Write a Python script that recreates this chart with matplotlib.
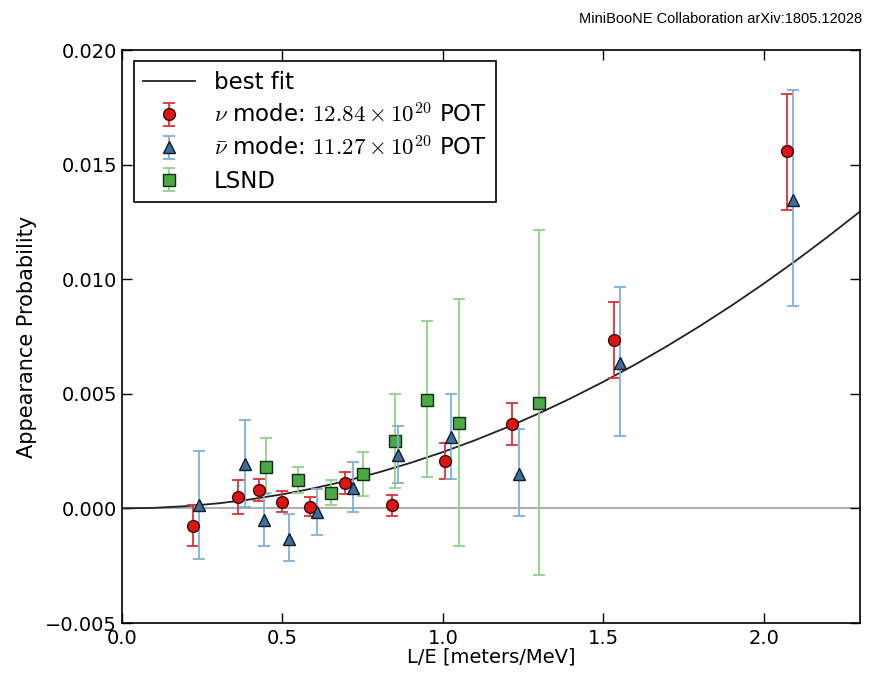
import matplotlib
matplotlib.use("Agg")
import matplotlib.pyplot as plt
import numpy as np

# Données (L/E en m/MeV, probabilité d'apparition)
nu_x = [0.222, 0.362, 0.426, 0.498, 0.585, 0.696, 0.842, 1.006, 1.216, 1.533, 2.073]
nu_y = [-0.00077, 0.00049, 0.00080, 0.00030, 0.00006, 0.00110, 0.00013, 0.00208, 0.00367, 0.00733, 0.01560]
nu_hi = [0.00013, 0.00123, 0.00130, 0.00077, 0.00048, 0.00158, 0.00060, 0.00286, 0.00459, 0.00900, 0.01810]
nu_lo = [-0.00166, -0.00025, 0.00032, -0.00016, -0.00033, 0.00062, -0.00033, 0.00130, 0.00277, 0.00568, 0.01303]

nubar_x = [0.241, 0.382, 0.444, 0.520, 0.608, 0.719, 0.860, 1.026, 1.236, 1.553, 2.093]
nubar_y = [0.00013, 0.00192, -0.00052, -0.00132, -0.00016, 0.00090, 0.00231, 0.00312, 0.00152, 0.00635, 0.01346]
nubar_hi = [0.00250, 0.00385, 0.00061, -0.00026, 0.00083, 0.00203, 0.00359, 0.00497, 0.00347, 0.00964, 0.01826]
nubar_lo = [-0.00219, 0.00007, -0.00164, -0.00230, -0.00115, -0.00016, 0.00109, 0.00130, -0.00033, 0.00314, 0.00881]

lsnd_x = [0.45, 0.55, 0.65, 0.75, 0.85, 0.95, 1.05, 1.30]
lsnd_y = [0.00182, 0.00123, 0.00068, 0.00148, 0.00293, 0.00475, 0.00373, 0.00462]
lsnd_hi = [0.00309, 0.00179, 0.00123, 0.00247, 0.00497, 0.00818, 0.00914, 0.01216]
lsnd_lo = [0.00068, 0.00068, 0.00013, 0.00054, 0.00090, 0.00135, -0.00164, -0.00292]

# Courbe "best fit" lue tous les 0.1 m/MeV
fit_x = [0.0, 0.1, 0.2, 0.3, 0.4, 0.5, 0.6, 0.7, 0.8, 0.9, 1.0, 1.1,
         1.2, 1.3, 1.4, 1.5, 1.6, 1.7, 1.8, 1.9, 2.0, 2.1, 2.2, 2.3]
fit_y = [0.0, 0.0000246, 0.0000984, 0.000221, 0.000393, 0.000615, 0.000885, 0.001204,
         0.001573, 0.00199, 0.002457, 0.002973, 0.003536, 0.004149, 0.004812, 0.005521,
         0.006281, 0.007089, 0.007945, 0.008848, 0.009801, 0.010802, 0.01185, 0.012946]

plt.rcParams['font.family'] = ['DejaVu Sans']
plt.rcParams['mathtext.fontset'] = 'cm'
plt.rcParams['xtick.direction'] = 'in'
plt.rcParams['ytick.direction'] = 'in'
plt.rcParams['xtick.top'] = True
plt.rcParams['ytick.right'] = True
plt.rcParams['xtick.major.size'] = 7
plt.rcParams['ytick.major.size'] = 7

fig = plt.figure(figsize=(8.72, 6.76), dpi=100)
ax = fig.add_axes([0.140, 0.0784, 0.846, 0.8476])


def errs(y, lo, hi):
    y = np.array(y)
    return [y - np.array(lo), np.array(hi) - y]


ax.axhline(0, color='#a0a0a0', lw=1.2, zorder=1)
ax.plot(fit_x, fit_y, color='#222222', lw=1.3, label='best fit', zorder=2)

ax.errorbar(nu_x, nu_y, yerr=errs(nu_y, nu_lo, nu_hi), fmt='o', color='#e03030',
            mfc='#dd1515', mec='#3a0a0a', ms=8.5, elinewidth=1.3, capsize=4, capthick=1.3,
            label=r'$\nu$ mode: $12.84\times10^{20}$ POT', zorder=4)
ax.errorbar(nubar_x, nubar_y, yerr=errs(nubar_y, nubar_lo, nubar_hi), fmt='^', color='#7fb0dc',
            mfc='#3d6e9c', mec='#101c2a', ms=8.5, elinewidth=1.3, capsize=4, capthick=1.3,
            label=r'$\bar{\nu}$ mode: $11.27\times10^{20}$ POT', zorder=4)
ax.errorbar(lsnd_x, lsnd_y, yerr=errs(lsnd_y, lsnd_lo, lsnd_hi), fmt='s', color='#8fd18a',
            mfc='#4aa845', mec='#142a12', ms=8.5, elinewidth=1.3, capsize=4, capthick=1.3,
            label='LSND', zorder=3)

ax.set_xlim(0, 2.3)
ax.set_ylim(-0.005, 0.020)
ax.set_xticks([0.0, 0.5, 1.0, 1.5, 2.0])
ax.set_yticks([-0.005, 0.0, 0.005, 0.010, 0.015, 0.020])
ax.set_yticklabels(['\u22120.005', '0.000', '0.005', '0.010', '0.015', '0.020'])
ax.tick_params(labelsize=14, width=1)
ax.tick_params(axis='x', pad=4)
for s in ax.spines.values():
    s.set_linewidth(1.2)

ax.set_xlabel('L/E [meters/MeV]', fontsize=14, labelpad=0)
ax.set_ylabel('Appearance Probability', fontsize=15, labelpad=6)

leg = ax.legend(loc='upper left', numpoints=1, fontsize=16.5, fancybox=False,
                edgecolor='black', framealpha=1, borderaxespad=0.5,
                handlelength=2.3, labelspacing=0.4)
leg.get_frame().set_linewidth(1.2)

fig.text(0.9885, 0.972, 'MiniBooNE Collaboration arXiv:1805.12028', ha='right', va='center',
         fontsize=10.5, family=['Liberation Sans', 'DejaVu Sans'])

fig.savefig('out.png', dpi=100)
